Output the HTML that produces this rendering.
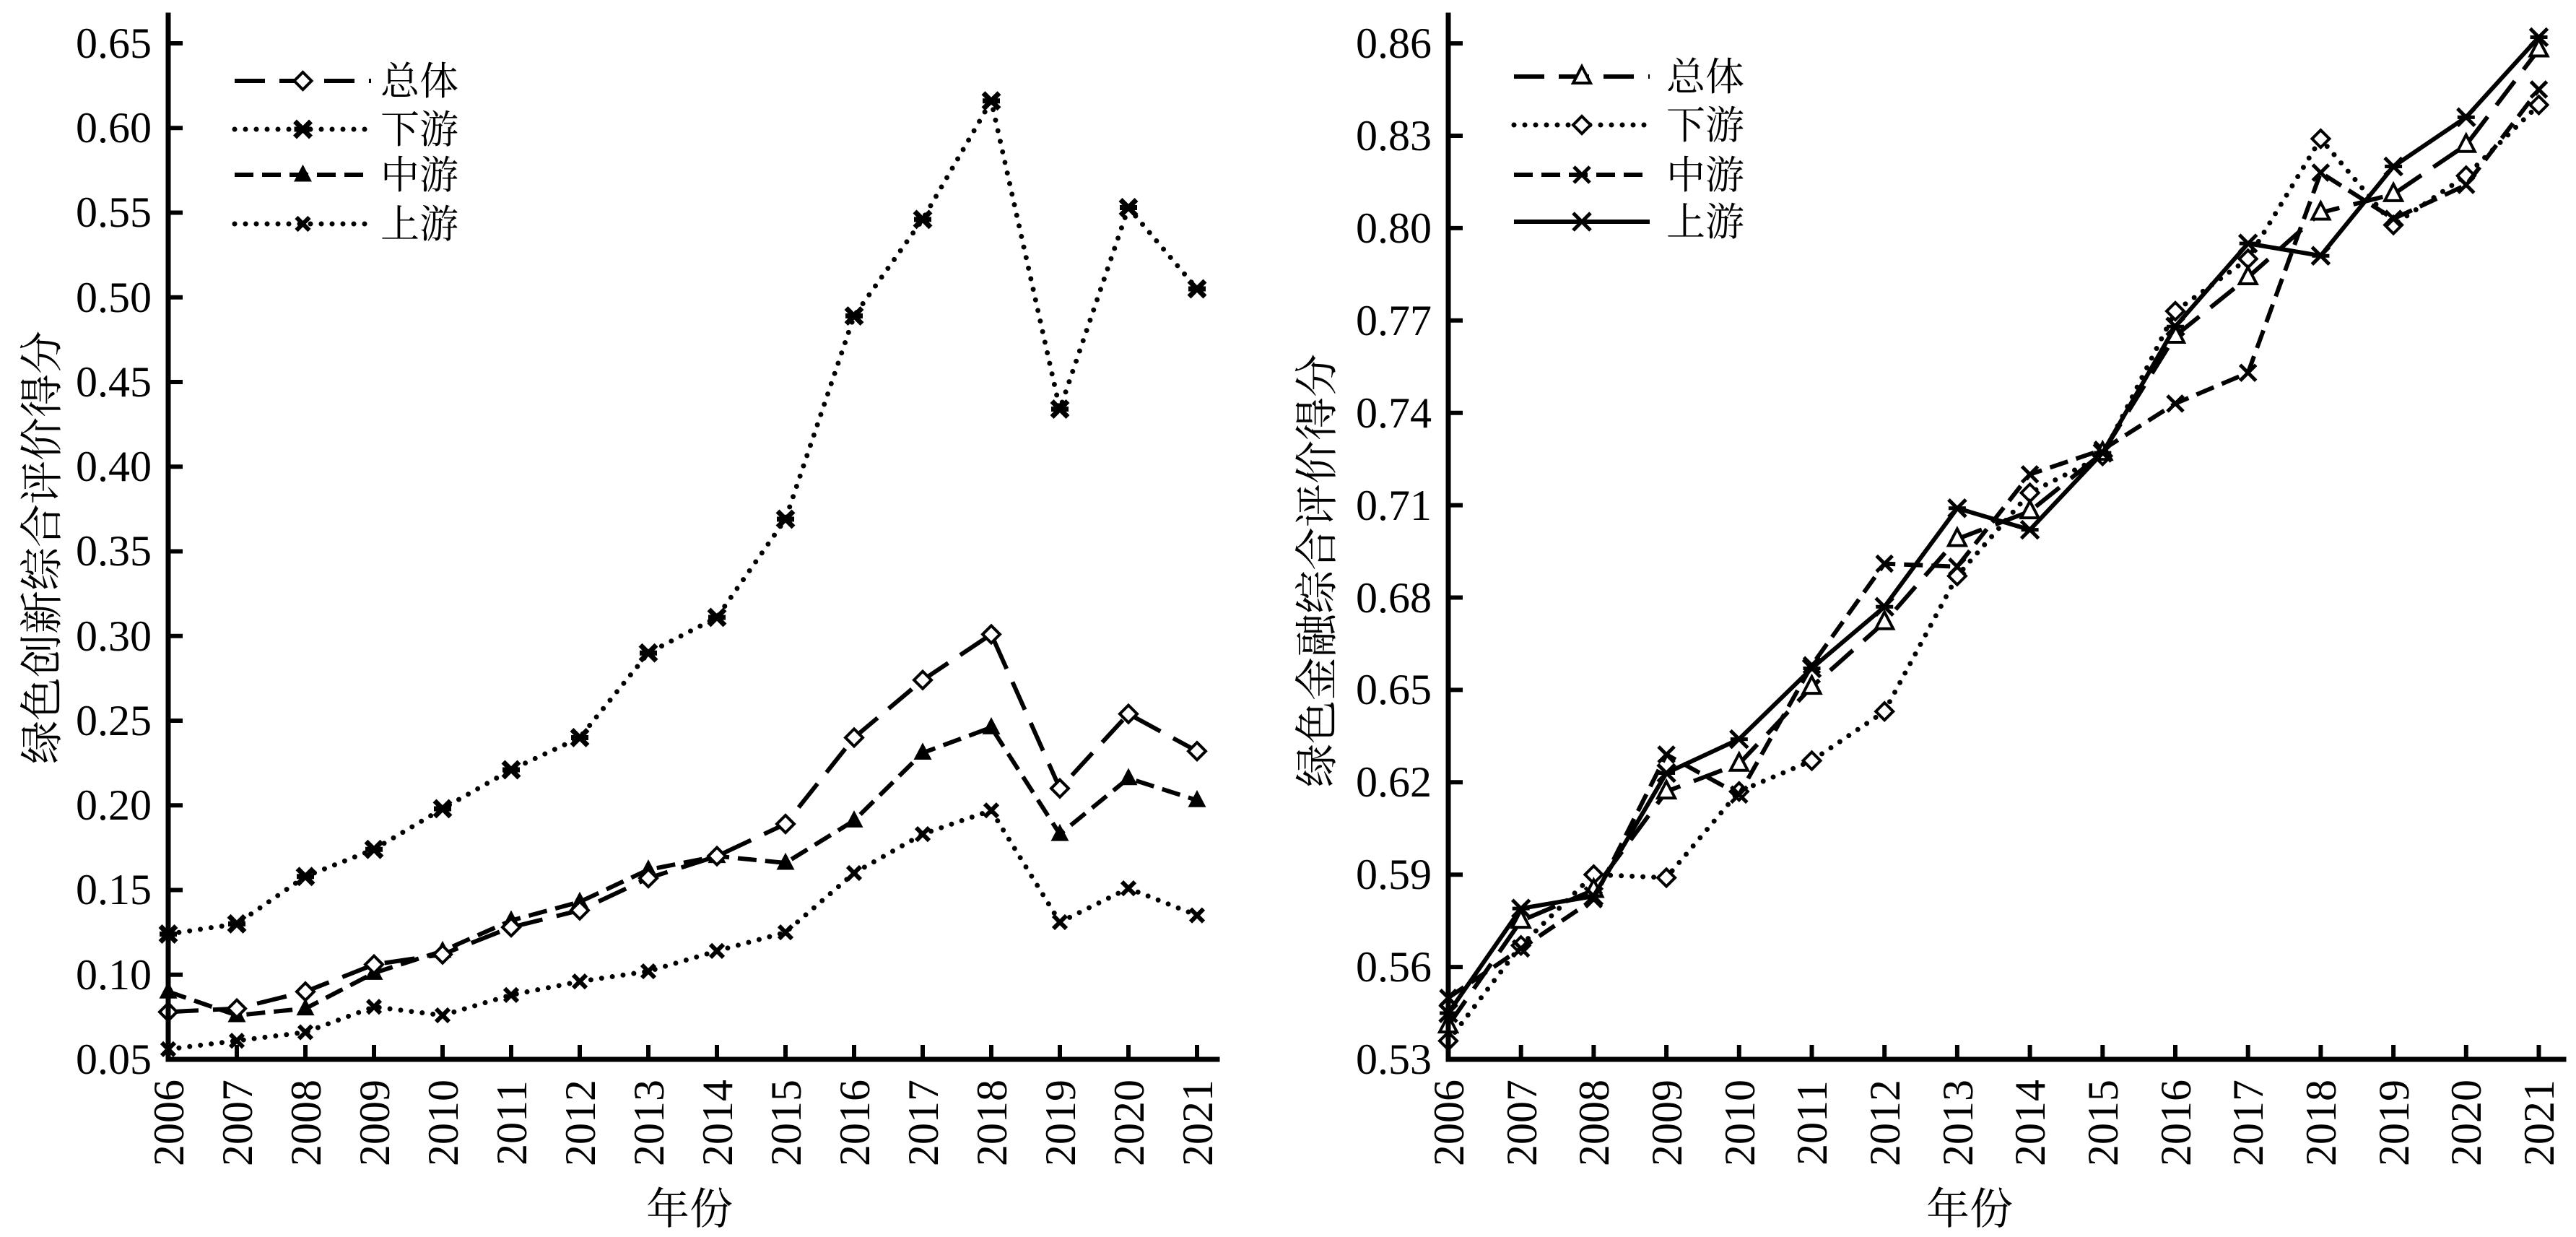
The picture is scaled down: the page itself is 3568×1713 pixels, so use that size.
<!DOCTYPE html>
<html><head><meta charset="utf-8"><style>
html,body{margin:0;padding:0;background:#fff;}
svg{display:block;}
text{font-family:"Liberation Serif","Noto Serif CJK SC",serif;fill:#000;}
.cj{font-family:"Liberation Serif","Noto Serif CJK SC","Noto Sans CJK SC",serif;}
</style></head><body>
<svg id="s" width="3568" height="1713" viewBox="0 0 3568 1713" xmlns="http://www.w3.org/2000/svg">
<g id="g"></g>
<!-- Left y tick labels -->
<g font-size="60" text-anchor="end">
<text x="210" y="80">0.65</text><text x="210" y="197">0.60</text><text x="210" y="314">0.55</text>
<text x="210" y="432">0.50</text><text x="210" y="549">0.45</text><text x="210" y="666">0.40</text>
<text x="210" y="783">0.35</text><text x="210" y="901">0.30</text><text x="210" y="1018">0.25</text>
<text x="210" y="1135">0.20</text><text x="210" y="1252">0.15</text><text x="210" y="1370">0.10</text>
<text x="210" y="1487">0.05</text>
</g>
<!-- Right y tick labels -->
<g font-size="60" text-anchor="end">
<text x="1983" y="80">0.86</text><text x="1983" y="208">0.83</text><text x="1983" y="336">0.80</text>
<text x="1983" y="464">0.77</text><text x="1983" y="592">0.74</text><text x="1983" y="720">0.71</text>
<text x="1983" y="848">0.68</text><text x="1983" y="975">0.65</text><text x="1983" y="1103">0.62</text>
<text x="1983" y="1231">0.59</text><text x="1983" y="1359">0.56</text><text x="1983" y="1487">0.53</text>
</g>
<!-- Left x tick labels -->
<g font-size="60" text-anchor="middle">
<text transform="translate(254,1555) rotate(-90)">2006</text>
<text transform="translate(349,1555) rotate(-90)">2007</text>
<text transform="translate(444,1555) rotate(-90)">2008</text>
<text transform="translate(539,1555) rotate(-90)">2009</text>
<text transform="translate(634,1555) rotate(-90)">2010</text>
<text transform="translate(729,1555) rotate(-90)">2011</text>
<text transform="translate(824,1555) rotate(-90)">2012</text>
<text transform="translate(919,1555) rotate(-90)">2013</text>
<text transform="translate(1014,1555) rotate(-90)">2014</text>
<text transform="translate(1109,1555) rotate(-90)">2015</text>
<text transform="translate(1204,1555) rotate(-90)">2016</text>
<text transform="translate(1299,1555) rotate(-90)">2017</text>
<text transform="translate(1394,1555) rotate(-90)">2018</text>
<text transform="translate(1489,1555) rotate(-90)">2019</text>
<text transform="translate(1584,1555) rotate(-90)">2020</text>
<text transform="translate(1679,1555) rotate(-90)">2021</text>
</g>
<!-- Right x tick labels -->
<g font-size="60" text-anchor="middle">
<text transform="translate(2027,1555) rotate(-90)">2006</text>
<text transform="translate(2128,1555) rotate(-90)">2007</text>
<text transform="translate(2228,1555) rotate(-90)">2008</text>
<text transform="translate(2329,1555) rotate(-90)">2009</text>
<text transform="translate(2430,1555) rotate(-90)">2010</text>
<text transform="translate(2530,1555) rotate(-90)">2011</text>
<text transform="translate(2631,1555) rotate(-90)">2012</text>
<text transform="translate(2732,1555) rotate(-90)">2013</text>
<text transform="translate(2832,1555) rotate(-90)">2014</text>
<text transform="translate(2933,1555) rotate(-90)">2015</text>
<text transform="translate(3034,1555) rotate(-90)">2016</text>
<text transform="translate(3134,1555) rotate(-90)">2017</text>
<text transform="translate(3235,1555) rotate(-90)">2018</text>
<text transform="translate(3336,1555) rotate(-90)">2019</text>
<text transform="translate(3436,1555) rotate(-90)">2020</text>
<text transform="translate(3537,1555) rotate(-90)">2021</text>
</g>
<!-- axis titles -->
<text class="cj" font-size="60" text-anchor="middle" x="955" y="1695">年份</text>
<text class="cj" font-size="60" text-anchor="middle" x="2728" y="1695">年份</text>
<text class="cj" font-size="60" text-anchor="middle" transform="translate(79,758) rotate(-90)">绿色创新综合评价得分</text>
<text class="cj" font-size="60" text-anchor="middle" transform="translate(1845,790) rotate(-90)">绿色金融综合评价得分</text>
<!-- legends -->
<g class="cj" font-size="54">
<text x="527" y="131">总体</text><text x="527" y="198">下游</text><text x="527" y="261">中游</text><text x="527" y="329">上游</text>
<text x="2308" y="125">总体</text><text x="2308" y="192">下游</text><text x="2308" y="261">中游</text><text x="2308" y="326">上游</text>
</g>
</svg>
<script>
(function(){
var NS="http://www.w3.org/2000/svg",g=document.getElementById('g');
function el(t,a){var e=document.createElementNS(NS,t);for(var k in a)e.setAttribute(k,a[k]);g.appendChild(e);return e;}
function marker(type,x,y){
 var s=12;
 if(type=='d'){el('polygon',{points:(x)+','+(y-s)+' '+(x+s)+','+y+' '+x+','+(y+s)+' '+(x-s)+','+y,fill:'#fff',stroke:'#000','stroke-width':4});}
 else if(type=='t'){el('polygon',{points:x+','+(y-14)+' '+(x+12)+','+(y+9)+' '+(x-12)+','+(y+9),fill:'#fff',stroke:'#000','stroke-width':4});}
 else if(type=='T'){el('polygon',{points:x+','+(y-11)+' '+(x+10)+','+(y+8)+' '+(x-10)+','+(y+8),fill:'#000',stroke:'#000','stroke-width':3});}
 else if(type=='x'){el('path',{d:'M'+(x-11)+' '+(y-11)+'L'+(x+11)+' '+(y+11)+'M'+(x-11)+' '+(y+11)+'L'+(x+11)+' '+(y-11),stroke:'#000','stroke-width':5});}
 else if(type=='X'){el('path',{d:'M'+(x-9)+' '+(y-9)+'L'+(x+9)+' '+(y+9)+'M'+(x-9)+' '+(y+9)+'L'+(x+9)+' '+(y-9),stroke:'#000','stroke-width':6});}
 else if(type=='a'){el('path',{d:'M'+(x-12)+' '+(y-12)+'L'+(x+12)+' '+(y+12)+'M'+(x-12)+' '+(y+12)+'L'+(x+12)+' '+(y-12)+'M'+(x-12)+' '+y+'L'+(x+12)+' '+y,stroke:'#000','stroke-width':5});}
 else if(type=='A'){el('path',{d:'M'+(x-11)+' '+(y-11)+'L'+(x+11)+' '+(y+11)+'M'+(x-11)+' '+(y+11)+'L'+(x+11)+' '+(y-11)+'M'+(x-12)+' '+y+'L'+(x+12)+' '+y,stroke:'#000','stroke-width':7});}
}
var styles={long:{da:'42 20',cap:'butt'},dot:{da:'0 15',cap:'round'},dash:{da:'26 12',cap:'butt'},solid:{da:'',cap:'butt'}};
function series(xs,ys,st,mk){
 var p=xs.map(function(x,i){return x+','+ys[i]}).join(' ');
 var a={points:p,fill:'none',stroke:'#000','stroke-width':st=='dot'?7:6,'stroke-linecap':styles[st].cap,'stroke-linejoin':'round'};
 if(styles[st].da)a['stroke-dasharray']=styles[st].da;
 el('polyline',a);
 xs.forEach(function(x,i){marker(mk,x,ys[i]);});
}
function legend(x1,x2,y,st,mk){series([x1,x2],[y,y],st,'none');marker(mk,(x1+x2)/2,y);}
// LEFT
var LX=[],RX=[];for(var i=0;i<16;i++){LX.push(233+i*95);RX.push(2006+i*100.7);}
function ly(v){return 1467-(v-0.05)*2345;}
function ry(v){return 1467-(v-0.53)/0.33*1407;}
var L={
 t:[0.078,0.080,0.090,0.106,0.112,0.128,0.138,0.157,0.170,0.189,0.240,0.274,0.301,0.210,0.254,0.232],
 d:[0.124,0.130,0.158,0.174,0.198,0.221,0.240,0.290,0.311,0.369,0.489,0.546,0.616,0.434,0.553,0.505],
 m:[0.090,0.076,0.080,0.101,0.114,0.132,0.143,0.162,0.170,0.166,0.191,0.231,0.246,0.183,0.216,0.203],
 u:[0.056,0.061,0.066,0.081,0.076,0.088,0.096,0.102,0.114,0.125,0.160,0.183,0.197,0.131,0.151,0.135]};
series(LX,L.u.map(ly),'dot','X');
series(LX,L.d.map(ly),'dot','A');
series(LX,L.m.map(ly),'dash','T');
series(LX,L.t.map(ly),'long','d');
var R={
 t:[0.541,0.575,0.585,0.617,0.626,0.651,0.672,0.699,0.708,0.727,0.765,0.784,0.805,0.811,0.827,0.858],
 d:[0.536,0.567,0.590,0.589,0.617,0.627,0.643,0.687,0.714,0.726,0.773,0.790,0.829,0.801,0.817,0.840],
 m:[0.550,0.566,0.582,0.629,0.616,0.658,0.691,0.690,0.720,0.728,0.743,0.753,0.818,0.803,0.814,0.845],
 u:[0.545,0.579,0.583,0.623,0.634,0.657,0.677,0.709,0.702,0.727,0.768,0.795,0.791,0.820,0.836,0.862]};
series(RX,R.d.map(ry),'dot','d');
series(RX,R.m.map(ry),'dash','x');
series(RX,R.t.map(ry),'long','t');
series(RX,R.u.map(ry),'solid','a');
// legends
legend(325,514,112,'long','d');legend(325,514,179,'dot','A');legend(325,514,242,'dash','T');legend(325,514,310,'dot','X');
legend(2097,2285,106,'long','t');legend(2097,2285,173,'dot','d');legend(2097,2285,242,'dash','x');legend(2097,2285,307,'solid','a');
// axes
el('path',{d:'M233 21 L233 1467 L1686 1467',fill:'none',stroke:'#000','stroke-width':7,'stroke-linecap':'square'});
el('path',{d:'M2006 21 L2006 1467 L3551 1467',fill:'none',stroke:'#000','stroke-width':7,'stroke-linecap':'square'});
var d='';
for(var k=0;k<13;k++){var y=1467-k*117.25;d+='M233 '+y+'L253 '+y;}
for(var k=0;k<16;k++){d+='M'+LX[k]+' 1467L'+LX[k]+' 1447';}
for(var k=0;k<12;k++){var y=1467-k*127.9;d+='M2006 '+y+'L2026 '+y;}
for(var k=0;k<16;k++){d+='M'+RX[k]+' 1467L'+RX[k]+' 1447';}
el('path',{d:d,stroke:'#000','stroke-width':6});
})();
</script>
</body></html>
